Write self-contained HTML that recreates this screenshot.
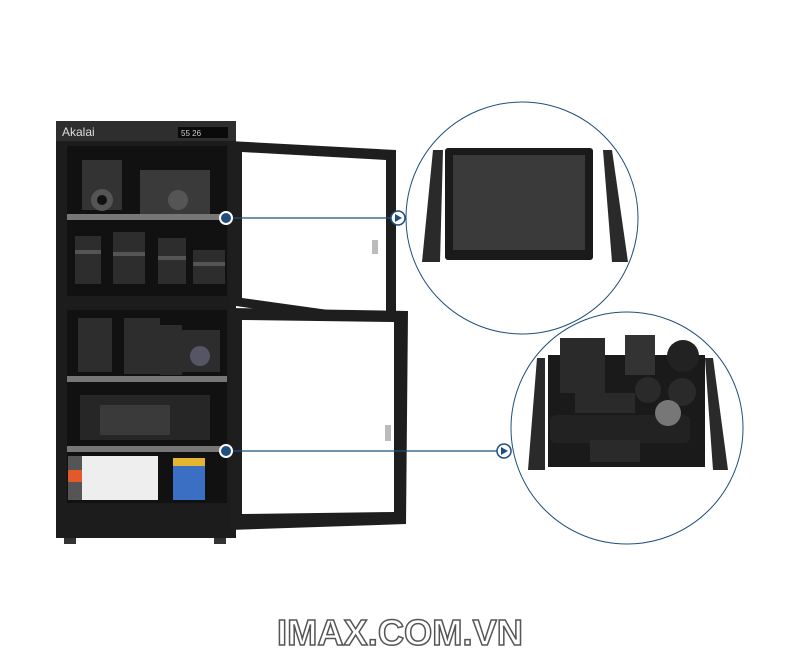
<!DOCTYPE html>
<html><head><meta charset="utf-8"><style>
html,body{margin:0;padding:0;background:#fff;width:800px;height:650px;overflow:hidden}
</style></head><body>
<svg width="800" height="650" viewBox="0 0 800 650" xmlns="http://www.w3.org/2000/svg">
<defs>
<linearGradient id="gr" x1="0" x2="1"><stop offset="0" stop-color="#222"/><stop offset=".5" stop-color="#555"/><stop offset="1" stop-color="#222"/></linearGradient>
</defs>
<!-- cabinet -->
<rect x="56" y="121" width="180" height="417" fill="#1c1c1c"/>
<rect x="56" y="121" width="180" height="20" fill="#2e2e2e"/>
<text x="62" y="136" font-family="Liberation Sans, sans-serif" font-size="12" fill="#ddd">Akalai</text>
<rect x="178" y="127" width="50" height="11" fill="#0a0a0a"/>
<text x="181" y="136" font-family="Liberation Sans, sans-serif" font-size="8" fill="#ccc">55 26</text>
<rect x="67" y="146" width="160" height="150" fill="#111"/>
<rect x="67" y="310" width="160" height="193" fill="#111"/>
<!-- equipment upper -->
<rect x="82" y="160" width="40" height="50" fill="#333"/><circle cx="102" cy="200" r="11" fill="#555"/><circle cx="102" cy="200" r="5" fill="#111"/>
<rect x="140" y="170" width="70" height="44" fill="#3a3a3a"/><circle cx="178" cy="200" r="10" fill="#555"/>
<rect x="67" y="214" width="160" height="6" fill="#777"/>
<g fill="#2d2d2d">
<rect x="75" y="236" width="26" height="48"/><rect x="113" y="232" width="32" height="52"/><rect x="158" y="238" width="28" height="46"/><rect x="193" y="250" width="32" height="34"/>
</g>
<g fill="#555"><rect x="75" y="250" width="26" height="4"/><rect x="113" y="252" width="32" height="4"/><rect x="158" y="256" width="28" height="4"/><rect x="193" y="262" width="32" height="4"/></g>
<rect x="56" y="296" width="180" height="14" fill="#1c1c1c"/>
<!-- lower equipment -->
<g fill="#2d2d2d"><rect x="78" y="318" width="34" height="54"/><rect x="124" y="318" width="36" height="56"/><rect x="160" y="325" width="22" height="50"/><rect x="182" y="330" width="38" height="42"/></g>
<circle cx="200" cy="356" r="10" fill="#556"/>
<rect x="67" y="376" width="160" height="6" fill="#777"/>
<rect x="80" y="395" width="130" height="45" fill="#262626"/>
<rect x="100" y="405" width="70" height="30" fill="#3a3a3a"/>
<rect x="67" y="446" width="160" height="6" fill="#777"/>
<rect x="68" y="456" width="90" height="44" fill="#eee"/>
<rect x="68" y="456" width="14" height="44" fill="#555"/><rect x="68" y="470" width="14" height="12" fill="#e35a2a"/>
<rect x="173" y="458" width="32" height="42" fill="#3b6fc4"/><rect x="173" y="458" width="32" height="8" fill="#e4b530"/>
<rect x="64" y="538" width="12" height="6" fill="#333"/><rect x="214" y="538" width="12" height="6" fill="#333"/>
<!-- upper door -->
<polygon points="229,141 396,150 396,329 229,305" fill="#1e1e1e"/>
<polygon points="242,152 386,160 386,318 242,298" fill="#fff"/>
<rect x="372" y="240" width="6" height="14" fill="#bbb"/>
<!-- lower door -->
<polygon points="230,308 408,311 406,524 230,530" fill="#1e1e1e"/>
<polygon points="242,320 394,322 394,512 242,514" fill="#fff"/>
<rect x="385" y="425" width="6" height="16" fill="#bbb"/>
<!-- circles -->
<circle cx="522" cy="218" r="116" fill="#fff" stroke="#1f4f7e" stroke-width="1"/>
<circle cx="627" cy="428" r="116" fill="#fff" stroke="#1f4f7e" stroke-width="1"/>
<!-- circle1 contents -->
<rect x="445" y="148" width="148" height="112" rx="3" fill="#1a1a1a"/>
<rect x="453" y="155" width="132" height="95" fill="#3a3a3a"/>
<polygon points="433,150 443,150 440,262 422,262" fill="#2a2a2a"/>
<polygon points="603,150 612,150 628,262 612,262" fill="#2a2a2a"/>
<!-- circle2 contents -->
<rect x="548" y="355" width="157" height="112" fill="#1a1a1a"/>
<rect x="560" y="338" width="45" height="55" fill="#2a2a2a"/>
<rect x="625" y="335" width="30" height="40" fill="#333"/>
<circle cx="683" cy="356" r="16" fill="#222"/><circle cx="648" cy="390" r="13" fill="#2a2a2a"/><circle cx="682" cy="392" r="14" fill="#2a2a2a"/>
<rect x="575" y="393" width="60" height="20" fill="#2a2a2a"/>
<rect x="550" y="415" width="140" height="28" rx="6" fill="#222"/>
<circle cx="668" cy="413" r="13" fill="#777"/>
<rect x="590" y="440" width="50" height="22" fill="#2a2a2a"/>
<polygon points="537,358 545,358 545,470 528,470" fill="#2a2a2a"/>
<polygon points="705,358 713,358 728,470 713,470" fill="#2a2a2a"/>
<!-- connectors -->
<line x1="226" y1="218" x2="398" y2="218" stroke="#1f4f7e" stroke-width="1.3"/>
<line x1="226" y1="451" x2="503" y2="451" stroke="#1f4f7e" stroke-width="1.3"/>
<circle cx="226" cy="218" r="6" fill="#1f4f7e" stroke="#fff" stroke-width="2"/>
<circle cx="226" cy="451" r="6" fill="#1f4f7e" stroke="#fff" stroke-width="2"/>
<circle cx="398" cy="218" r="7" fill="#fff" stroke="#1f4f7e" stroke-width="1.5"/>
<polygon points="395,214 402,218 395,222" fill="#1f4f7e"/>
<circle cx="504" cy="451" r="7" fill="#fff" stroke="#1f4f7e" stroke-width="1.5"/>
<polygon points="501,447 508,451 501,455" fill="#1f4f7e"/>
<!-- title -->
<text x="400" y="645" text-anchor="middle" font-family="Liberation Sans, sans-serif" font-weight="bold" font-size="36" fill="#fff" stroke="#555" stroke-width="1.5" textLength="246" lengthAdjust="spacingAndGlyphs">IMAX.COM.VN</text>
</svg>
</body></html>
